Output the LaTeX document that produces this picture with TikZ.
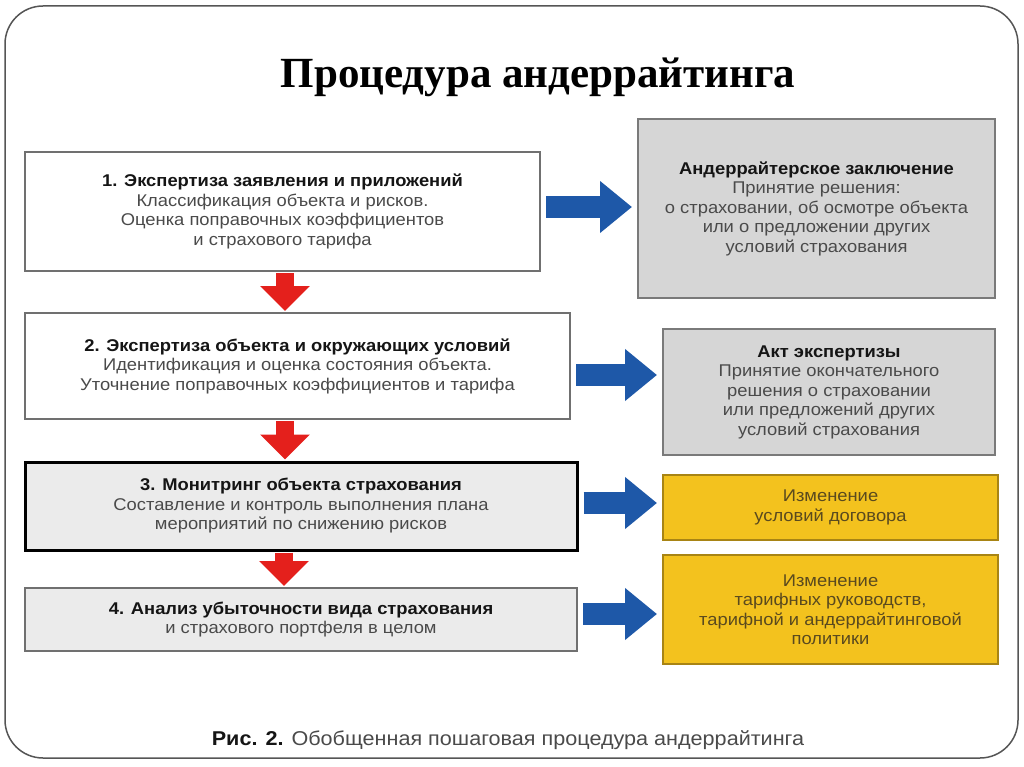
\documentclass[tikz,border=0pt]{standalone}
\usepackage{fontspec}
\setmainfont{Liberation Sans}[FakeStretch=1.08]
\newfontfamily\titlefont{Liberation Serif}
\usetikzlibrary{arrows.meta}
\usetikzlibrary{shapes}

\definecolor{frameline}{HTML}{555555}
\definecolor{stepline}{HTML}{707070}
\definecolor{stepfill}{HTML}{EBEBEB}
\definecolor{resline}{HTML}{7A7A7A}
\definecolor{resfill}{HTML}{D6D6D6}
\definecolor{yelline}{HTML}{A88414}
\definecolor{yelfill}{HTML}{F3C21E}
\definecolor{yeltext}{HTML}{5A4A1E}
\definecolor{bodytext}{HTML}{4A4A4A}
\definecolor{headtext}{HTML}{151515}
\definecolor{bluearr}{HTML}{1E58A8}
\definecolor{redarr}{HTML}{E4201C}

\newcommand{\boxhead}[1]{\textcolor{headtext}{\bfseries #1}}

\tikzset{
        node_box/.style={align=center,inner sep=0pt,text=bodytext,font=\fontsize{17}{19.5}\selectfont},
        % Step boxes (left column)
        step_white/.style={node_box, rectangle, draw=stepline, line width=2pt, fill=white},
        step_grey/.style={node_box, rectangle, draw=stepline, line width=2pt, fill=stepfill},
        step_bold/.style={step_grey, draw=black, line width=3pt},
        % Result boxes (right column)
        result_grey/.style={node_box, rectangle, draw=resline, line width=2pt, fill=resfill},
        result_yellow/.style={node_box, rectangle, draw=yelline, line width=2pt, fill=yelfill, text=yeltext},
        % Fat arrows
        arrow_down/.style={draw=redarr, line width=18pt, -{Triangle[width=48pt,length=25pt]}, shorten <=1pt, shorten >=1pt},
        arrow_right/.style={draw=bluearr, line width=22pt, -{Triangle[width=50pt,length=32pt]}, shorten <=5pt, shorten >=5pt}
}

\begin{document}
\begin{tikzpicture}[x=1pt, y=1pt]
            \useasboundingbox (0,0) rectangle (1024,-767);
            % outer frame
            \draw[frameline, line width=1.5pt, rounded corners=38pt] (5,-6) rectangle (1018,-758);

            \node[font=\titlefont\bfseries\fontsize{43}{48}\selectfont] (title) at (538,-77) {Процедура андеррайтинга};

            % steps
            \node[step_white, minimum width=515pt, minimum height=119pt] (s1) at (282.5,-211.5)
                {\boxhead{1. Экспертиза заявления и приложений}\\
                 Классификация объекта и рисков.\\
                 Оценка поправочных коэффициентов\\
                 и страхового тарифа};
            \node[step_white, minimum width=545pt, minimum height=106pt] (s2) at (297.5,-366)
                {\boxhead{2. Экспертиза объекта и окружающих условий}\\
                 Идентификация и оценка состояния объекта.\\
                 Уточнение поправочных коэффициентов и тарифа};
            \node[step_bold, minimum width=552pt, minimum height=88pt] (s3) at (301,-506)
                {\boxhead{3. Монитринг объекта страхования}\\
                 Составление и контроль выполнения плана\\
                 мероприятий по снижению рисков};
            \node[step_grey, minimum width=552pt, minimum height=63pt] (s4) at (301,-619.5)
                {\boxhead{4. Анализ убыточности вида страхования}\\
                 и страхового портфеля в целом};

            % results
            \node[result_grey, minimum width=357pt, minimum height=179pt] (r1) at (816.5,-208.5)
                {\boxhead{Андеррайтерское заключение}\\
                 Принятие решения:\\
                 о страховании, об осмотре объекта\\
                 или о предложении других\\
                 условий страхования};
            \node[result_grey, minimum width=332pt, minimum height=126pt] (r2) at (829,-392)
                {\boxhead{Акт экспертизы}\\
                 Принятие окончательного\\
                 решения о страховании\\
                 или предложений других\\
                 условий страхования};
            \node[result_yellow, minimum width=335pt, minimum height=65pt] (r3) at (830.5,-507.5)
                {Изменение\\
                 условий договора};
            \node[result_yellow, minimum width=335pt, minimum height=109pt] (r4) at (830.5,-609.5)
                {Изменение\\
                 тарифных руководств,\\
                 тарифной и андеррайтинговой\\
                 политики};

            % arrows between steps
            \draw[arrow_down] ([xshift=2.5pt]s1.south) -- ([xshift=2.5pt]s1.south |- s2.north);
            \draw[arrow_down] ([xshift=-12.5pt]s2.south) -- ([xshift=-12.5pt]s2.south |- s3.north);
            \draw[arrow_down] ([xshift=-17pt]s3.south) -- ([xshift=-17pt]s3.south |- s4.north);

            % arrows to results
            \draw[arrow_right] ([yshift=4.5pt]s1.east) -- ([yshift=4.5pt]s1.east -| r1.west);
            \draw[arrow_right] ([yshift=-9pt]s2.east) -- ([yshift=-9pt]s2.east -| r2.west);
            \draw[arrow_right] ([yshift=3pt]s3.east) -- ([yshift=3pt]s3.east -| r3.west);
            \draw[arrow_right] ([yshift=5.5pt]s4.east) -- ([yshift=5.5pt]s4.east -| r4.west);

            \node[font=\fontsize{20}{23}\selectfont, text=bodytext] (caption) at (508,-740)
                {\textcolor{headtext}{\bfseries Рис. 2.} Обобщенная пошаговая процедура андеррайтинга};
\end{tikzpicture}
\end{document}
